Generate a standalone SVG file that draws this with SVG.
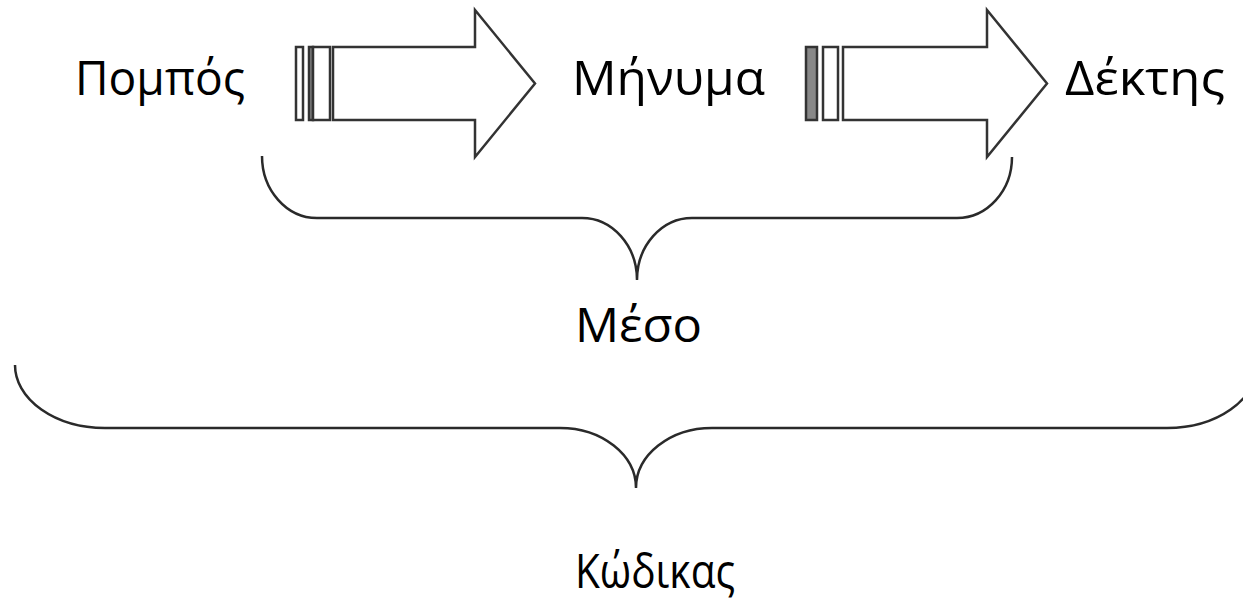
<svg xmlns="http://www.w3.org/2000/svg" width="1243" height="601" viewBox="0 0 1243 601">
  <style>
    .lbl { font-family: "Open Sans", "Noto Sans", "DejaVu Sans", sans-serif; font-size: 47px; fill: #000; }
    .arrow { fill: #fff; stroke: #333; stroke-width: 2.5; stroke-linejoin: miter; }
    .bar { fill: #888; stroke: #333; stroke-width: 2.5; }
    .brace { fill: none; stroke: #2a2a2a; stroke-width: 2.5; }
  </style>
  <rect width="1243" height="601" fill="#fff"/>

  <g id="node-pompos">
    <text class="lbl" x="75" y="95" textLength="170" lengthAdjust="spacingAndGlyphs">Πομπός</text>
  </g>
  <g id="node-minyma">
    <text class="lbl" x="572" y="95" textLength="193" lengthAdjust="spacingAndGlyphs">Μήνυμα</text>
  </g>
  <g id="node-dektis">
    <text class="lbl" x="1065" y="95" textLength="160" lengthAdjust="spacingAndGlyphs">Δέκτης</text>
  </g>
  <g id="node-meso">
    <text class="lbl" x="575" y="342" textLength="127" lengthAdjust="spacingAndGlyphs">Μέσο</text>
  </g>
  <g id="node-kodikas">
    <text class="lbl" x="575" y="588" textLength="160" lengthAdjust="spacingAndGlyphs">Κώδικας</text>
  </g>

  <g id="connectors">
    <g id="arrow-1">
      <rect class="arrow" x="296" y="47" width="7" height="73"/>
      <rect class="bar" x="309" y="47" width="4" height="73"/>
      <rect class="arrow" x="313" y="47" width="17" height="73"/>
      <path class="arrow" d="M333,47 H475 V10 L535,83.5 L475,157 V120 H333 Z"/>
    </g>
    <g id="arrow-2">
      <rect class="bar" x="806" y="47" width="11" height="73"/>
      <rect class="arrow" x="823" y="47" width="15" height="73"/>
      <path class="arrow" d="M843,47 H987 V10 L1047,83.5 L987,157 V120 H843 Z"/>
    </g>
    <path id="brace-meso" class="brace" d="M262,156 A55,62 0 0 0 317,218 H582 A55,62 0 0 1 637,280 A55,62 0 0 1 692,218 H957 A55,61 0 0 0 1012,157"/>
    <path id="brace-kodikas" class="brace" d="M15,365 A90,63 0 0 0 105,428 H560 A76,60 0 0 1 636,488 A76,60 0 0 1 712,428 H1167 A90,63 0 0 0 1257,365"/>
  </g>
</svg>
